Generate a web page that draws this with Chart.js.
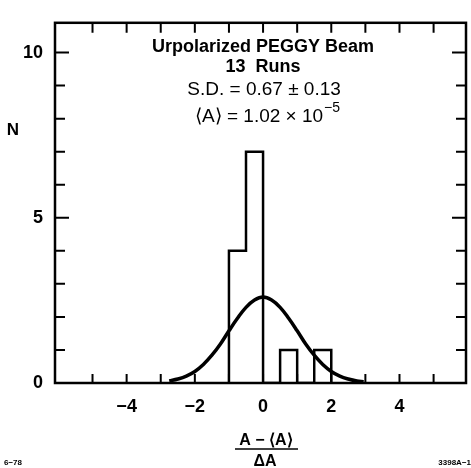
<!DOCTYPE html>
<html>
<head>
<meta charset="utf-8">
<script src="https://cdn.jsdelivr.net/npm/chart.js@4"></script>
<style>
  body { margin: 0; background: #fff; }
  #wrap { width: 471px; height: 468px; position: relative; }
</style>
</head>
<body>
<div id="wrap"><canvas id="myChart"></canvas></div>
<script>
// histogram: bin edges (width 0.5) and counts per bin
var binEdges = [-1, -0.5, 0, 0.5, 1, 1.5, 2];
var binCounts = [4, 7, 0, 1, 0, 1];

// fitted curve
var curveX = [-2.75, -2.5, -2.25, -2, -1.75, -1.5, -1.25, -1, -0.75, -0.5, -0.25, 0,
              0.25, 0.5, 0.75, 1, 1.25, 1.5, 1.75, 2, 2.25, 2.5, 2.75, 2.95];
var curveY = [0.06, 0.12, 0.21, 0.35, 0.56, 0.84, 1.18, 1.58, 1.96, 2.29, 2.51, 2.6,
              2.51, 2.29, 1.96, 1.58, 1.18, 0.84, 0.56, 0.35, 0.21, 0.12, 0.06, 0.04];

var xTickLabels = [-4, -2, 0, 2, 4];
var yTickLabels = [0, 5, 10];

var textLines = ['Urpolarized PEGGY Beam', '13  Runs', 'S.D. = 0.67 \u00b1 0.13'];

var FONT = '"Liberation Sans", Arial, sans-serif';

// outline of the histogram (steps)
var histData = [{x: binEdges[0], y: 0}];
for (var i = 0; i < binCounts.length; i++) {
    histData.push({x: binEdges[i], y: binCounts[i]});
    histData.push({x: binEdges[i + 1], y: binCounts[i]});
}
histData.push({x: binEdges[binEdges.length - 1], y: 0});

var lineData = [];
for (var j = 0; j < curveX.length; j++) {
    lineData.push({x: curveX[j], y: curveY[j]});
}

// frame, inward ticks and the loose text
var decorations = {
    id: 'decorations',
    afterDraw: function (chart) {
        var ctx = chart.ctx;
        var a = chart.chartArea;
        var xs = chart.scales.x, ys = chart.scales.y;
        ctx.save();
        ctx.strokeStyle = '#000';
        ctx.lineWidth = 2.5;
        ctx.strokeRect(a.left, a.top, a.right - a.left, a.bottom - a.top);

        ctx.lineWidth = 2;
        ctx.beginPath();
        for (var v = -5; v <= 5; v++) {
            var px = xs.getPixelForValue(v);
            ctx.moveTo(px, a.bottom); ctx.lineTo(px, a.bottom - 9);
            ctx.moveTo(px, a.top); ctx.lineTo(px, a.top + 10);
        }
        for (var n = 1; n <= 10; n++) {
            var py = ys.getPixelForValue(n);
            var len = (n % 5 === 0) ? 14 : 10;
            ctx.moveTo(a.left, py); ctx.lineTo(a.left + len, py);
            ctx.moveTo(a.right, py); ctx.lineTo(a.right - len, py);
        }
        ctx.stroke();

        ctx.fillStyle = '#000';
        ctx.textAlign = 'center';
        ctx.textBaseline = 'alphabetic';
        var cx = xs.getPixelForValue(0);
        ctx.font = 'bold 18px ' + FONT;
        ctx.fillText(textLines[0], cx, 52);
        ctx.fillText(textLines[1], cx, 72);
        ctx.font = '19px ' + FONT;
        ctx.fillText(textLines[2], cx + 1, 95);

        // <A> = 1.02 x 10^-5
        var main = '\u27e8A\u27e9 = 1.02 \u00d7 10';
        var sup = '\u22125';
        ctx.font = '19px ' + FONT;
        var w1 = ctx.measureText(main).width;
        ctx.font = '14px ' + FONT;
        var w2 = ctx.measureText(sup).width;
        var start = cx - (w1 + w2) / 2 + 4;
        ctx.textAlign = 'left';
        ctx.font = '19px ' + FONT;
        ctx.fillText(main, start, 122);
        ctx.font = '14px ' + FONT;
        ctx.fillText(sup, start + w1 + 1, 112);

        // y axis title
        ctx.font = 'bold 17px ' + FONT;
        ctx.textAlign = 'center';
        ctx.fillText('N', 13, 135);

        // x axis title as a fraction
        ctx.font = 'bold 16px ' + FONT;
        ctx.fillText('A \u2212 \u27e8A\u27e9', 266, 445);
        ctx.lineWidth = 1.5;
        ctx.beginPath();
        ctx.moveTo(235, 449); ctx.lineTo(298, 449);
        ctx.stroke();
        ctx.fillText('\u0394A', 265, 466);

        // corner ids
        ctx.font = 'bold 8px ' + FONT;
        ctx.textAlign = 'left';
        ctx.fillText('6\u221278', 4, 465);
        ctx.textAlign = 'right';
        ctx.fillText('3398A\u22121', 471, 465);
        ctx.restore();
    }
};

window.onload = function () {
    var ctx = document.getElementById('myChart');
    window.myChart = new Chart(ctx, {
        type: 'line',
        data: {
            datasets: [{
                data: histData,
                borderColor: '#000',
                borderWidth: 2.5,
                pointRadius: 0,
                tension: 0,
                fill: false
            }, {
                data: lineData,
                borderColor: '#000',
                borderWidth: 3.5,
                pointRadius: 0,
                tension: 0.4,
                fill: false
            }]
        },
        options: {
            responsive: true,
            maintainAspectRatio: false,
            animation: false,
            layout: {padding: {left: 0, top: 9, right: 5, bottom: 0}},
            plugins: {legend: {display: false}, tooltip: {enabled: false}},
            scales: {
                x: {
                    type: 'linear',
                    min: -6.1,
                    max: 5.95,
                    offset: false,
                    grid: {display: false, drawTicks: false},
                    border: {display: false},
                    afterFit: function (s) { s.height = 85; },
                    afterBuildTicks: function (s) {
                        s.ticks = xTickLabels.map(function (v) { return {value: v}; });
                    },
                    ticks: {
                        padding: 13,
                        color: '#000',
                        maxRotation: 0,
                        font: {family: FONT, size: 18, weight: 'bold'},
                        callback: function (v) { return v < 0 ? '\u2212' + Math.abs(v) : '' + v; }
                    }
                },
                y: {
                    min: 0,
                    max: 10.9,
                    grid: {display: false, drawTicks: false},
                    border: {display: false},
                    afterFit: function (s) { s.width = 55; },
                    afterBuildTicks: function (s) {
                        s.ticks = yTickLabels.map(function (v) { return {value: v}; });
                    },
                    ticks: {
                        padding: 12,
                        color: '#000',
                        font: {family: FONT, size: 18, weight: 'bold'}
                    }
                }
            }
        },
        plugins: [decorations]
    });
};
</script>
</body>
</html>
